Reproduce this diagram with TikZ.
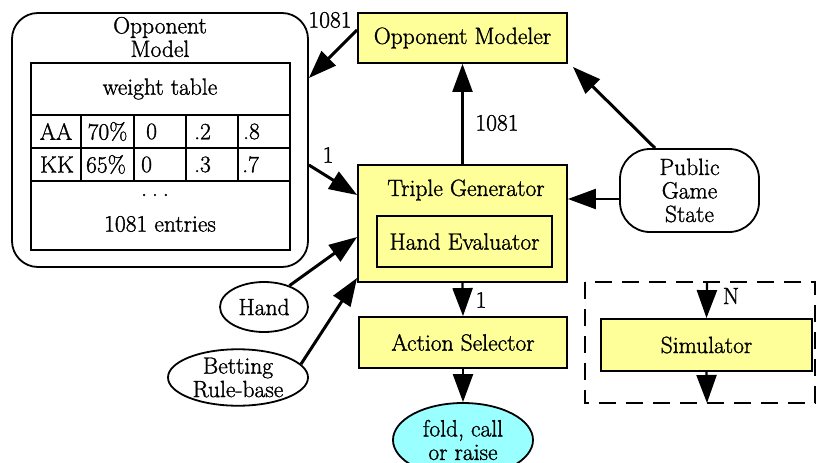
\documentclass[tikz,border=0pt]{standalone}
\usepackage{fontspec}
\setmainfont{Latin Modern Roman}[FakeBold=1.3]
\usetikzlibrary{arrows.meta,shapes.geometric}
\definecolor{boxyel}{HTML}{FFFF99}
\definecolor{outcyan}{HTML}{99FFFF}
\begin{document}
\begin{tikzpicture}[x=1pt,y=-1pt,
  font=\fontsize{23.5}{23.5}\selectfont,
  proc/.style={draw, line width=1.8pt, fill=boxyel, rectangle, inner sep=0pt},
  oval/.style={draw, line width=1.8pt, ellipse, inner sep=0pt, align=center},
  txt/.style={inner sep=0pt, align=center},
  edge/.style={line width=2.2pt, -{Triangle[length=28pt,width=20pt]}},
  bedge/.style={line width=3pt, -{Triangle[length=28pt,width=20pt]}},
  lab/.style={inner sep=0pt}]
\useasboundingbox (0,0) rectangle (817,463);
\clip (0,0) rectangle (817,463);

% Opponent Model container
\node[draw, line width=1.8pt, rounded corners=26pt, minimum width=296pt, minimum height=254pt, inner sep=0pt] (om) at (160,140) {};
\node[txt] (omt) at (160,37) {Opponent\\Model};
% table
\node[draw, line width=1.8pt, minimum width=259pt, minimum height=187pt, inner sep=0pt] (tab) at (160.5,156.5) {};
\draw[line width=1.8pt] (31,115) -- (290,115) (31,148) -- (290,148) (31,181) -- (290,181);
\draw[line width=1.8pt] (81,115) -- (81,181) (134,115) -- (134,181) (186,115) -- (186,181) (238,115) -- (238,181);
\node[txt] (wt) at (160,89) {weight table};
\node[txt] (aa) at (56,131.5) {AA};
\node[txt] (aa1) at (107.5,131.5) {70\%};
\node[txt,anchor=west] (aa2) at (146,131.5) {0};
\node[txt,anchor=west] (aa3) at (194,131.5) {.2};
\node[txt,anchor=west] (aa4) at (243,131.5) {.8};
\node[txt] (kk) at (57,164.5) {KK};
\node[txt] (kk1) at (106,164.5) {65\%};
\node[txt,anchor=west] (kk2) at (141,164.5) {0};
\node[txt,anchor=west] (kk3) at (194,164.5) {.3};
\node[txt,anchor=west] (kk4) at (242,164.5) {.7};
\node[txt,anchor=base] (dots) at (155,196) {.\hspace{5pt}.\hspace{5pt}.};
\node[txt] (ent) at (160,224) {1081 entries};

% main boxes
\node[proc, minimum width=209pt, minimum height=50pt] (omr) at (462.5,38) {Opponent Modeler};
\node[proc, minimum width=209pt, minimum height=117pt] (tg) at (462.5,223.5) {};
\node[txt] (tgt) at (466,190) {Triple Generator};
\node[draw, line width=1.8pt, rectangle, minimum width=175pt, minimum height=51pt, inner sep=0pt] (he) at (464.5,241.5) {Hand Evaluator};
\node[proc, minimum width=208pt, minimum height=51pt] (as) at (463,342.5) {Action Selector};
\node[draw, line width=1.8pt, fill=outcyan, ellipse, minimum width=140pt, minimum height=74pt, inner sep=0pt, align=center] (out) at (463,440) {fold, call\\or raise};

% inputs
\node[draw, line width=1.8pt, rounded corners=30pt, minimum width=139pt, minimum height=83pt, inner sep=0pt, align=center] (pgs) at (689.5,190.5) {Public\\Game\\State};
\node[oval, minimum width=88pt, minimum height=50pt] (hand) at (264,307) {Hand};
\node[oval, minimum width=140pt, minimum height=51pt] (br) at (238,377.5) {Betting\\Rule-base};

% simulator
\draw[line width=2pt, dash pattern=on 17pt off 10pt] (585,282) rectangle (815,403);
\node[proc, minimum width=211pt, minimum height=52pt] (sim) at (706.5,345) {Simulator};
\coordinate (ntop) at (707,282);
\coordinate (nbot) at (707,403);

% edges
\draw[bedge] ([yshift=8pt]omr.west) -- ([yshift=62pt]om.east);
\node[lab] (l1) at (330,20) {1081};
\draw[edge] (tg.north) -- (omr.south);
\node[lab] (l2) at (497,123) {1081};
\draw[bedge] ([yshift=-25pt]om.east) -- ([yshift=28.5pt]tg.west);
\node[lab] (l3) at (328,155) {1};
\draw[edge] ([yshift=-8.5pt]pgs.west) -- ([yshift=24.5pt]tg.east);
\draw[bedge] ([xshift=-34.5pt]pgs.north) -- ([shift={(5pt,-3pt)}]omr.south east);
\draw[bedge] (hand.40) -- ([yshift=-13.5pt]tg.west);
\draw[bedge] (br.12) -- ([yshift=5pt]tg.south west);
\draw[edge] (tg.south) -- (as.north);
\node[lab] (l4) at (481,300) {1};
\draw[edge] (as.south) -- (out.north);
\draw[edge] (ntop) -- (sim.north);
\node[lab] (l5) at (731,296) {N};
\draw[edge] (sim.south) -- (nbot);
\end{tikzpicture}
\end{document}
